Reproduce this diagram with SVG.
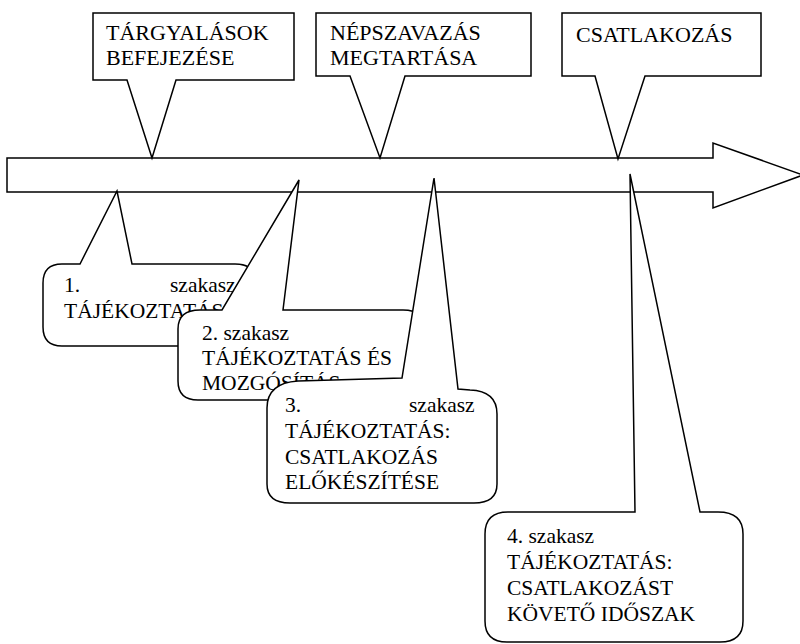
<svg xmlns="http://www.w3.org/2000/svg" width="800" height="644" viewBox="0 0 800 644">
<style>
.s{fill:#fff;stroke:#000;stroke-width:1.5;stroke-linejoin:miter}
.t{font-size:22px}
.b{font-size:21.5px}
</style>
<rect width="800" height="644" fill="#fff"/>
<g id="arrow">
<path class="s" d="M7,158 H713 V143 L803,175 L713,208 V192 H7 Z"/>
</g>
<g id="connectors"></g>
<g font-family="Liberation Serif, Times New Roman, serif" fill="#000">
<g id="top1">
<path class="s" d="M93,13 H294 V80 H176 L152,158 L127,80 H93 Z"/>
<text class="t" x="106" y="40">TÁRGYALÁSOK</text>
<text class="t" x="106" y="65">BEFEJEZÉSE</text>
</g>
<g id="top2">
<path class="s" d="M316,13 H531 V76 H405 L380,158 L350,76 H316 Z"/>
<text class="t" x="330" y="40">NÉPSZAVAZÁS</text>
<text class="t" x="330" y="65">MEGTARTÁSA</text>
</g>
<g id="top3">
<path class="s" d="M562,13 H761 V76 H645 L618,159 L595,76 H562 Z"/>
<text class="t" x="576" y="42">CSATLAKOZÁS</text>
</g>
<g id="phase1">
<path class="s" d="M43,283 Q43,264 62,264 L80,264 L117,191 L132,264 L235,264 Q256,264 256,283 L256,327 Q256,346 235,346 L62,346 Q43,346 43,327 Z"/>
<text class="b" x="64" y="292">1.</text>
<text class="b" x="170" y="292">szakasz</text>
<text class="b" x="64" y="318">TÁJÉKOZTATÁS</text>
</g>
<g id="phase2">
<path class="s" d="M178,329 Q178,310 200,310 L222,310 L299,180 L283,310 L403,310 Q425,310 425,329 L425,381 Q425,400 403,400 L198,400 Q178,400 178,381 Z"/>
<text class="b" x="202" y="340">2. szakasz</text>
<text class="b" x="202" y="365">TÁJÉKOZTATÁS ÉS</text>
<text class="b" x="202" y="390">MOZGÓSÍTÁS</text>
</g>
<g id="phase3">
<path class="s" d="M267,408 Q267,383 298,381 L402,378 L434,178 L458,389 L470,390 Q497,391 497,414 L497,484 Q497,503 474,503 L290,503 Q267,503 267,484 Z"/>
<text class="b" x="285" y="412">3.</text>
<text class="b" x="409" y="412">szakasz</text>
<text class="b" x="285" y="438">TÁJÉKOZTATÁS:</text>
<text class="b" x="285" y="464">CSATLAKOZÁS</text>
<text class="b" x="285" y="489">ELŐKÉSZÍTÉSE</text>
</g>
<g id="phase4">
<path class="s" d="M485,534 Q485,512 508,512 L635,512 L630,174 L700,512 L718,512 Q743,512 743,534 L743,621 Q743,642 720,642 L507,642 Q485,642 485,621 Z"/>
<text class="b" x="507" y="543">4. szakasz</text>
<text class="b" x="507" y="569">TÁJÉKOZTATÁS:</text>
<text class="b" x="507" y="595">CSATLAKOZÁST</text>
<text class="b" x="507" y="621">KÖVETŐ IDŐSZAK</text>
</g>
</g>
</svg>
